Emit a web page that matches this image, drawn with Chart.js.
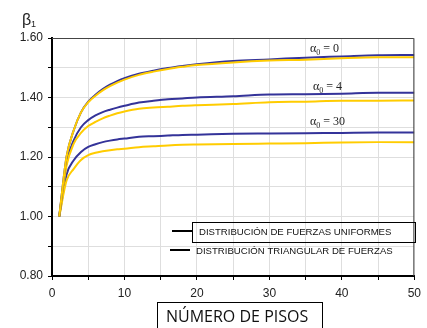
<!DOCTYPE html>
<html>
<head>
<meta charset="utf-8">
<script src="https://cdn.jsdelivr.net/npm/chart.js@4"></script>
<style>
  body { margin: 0; background: #fff; }
  canvas { display: block; }
</style>
</head>
<body>
<canvas id="myChart" width="427" height="328"></canvas>
<script>
// numero de pisos
const pisos = [1, 2, 3, 4, 5, 6, 7, 8, 9, 10, 12, 14, 16, 18, 20, 25, 30, 35, 40, 45, 50];

// beta1 - distribucion uniforme (azul)
const unif0  = [1.00, 1.20, 1.29, 1.35, 1.386, 1.409, 1.428, 1.443, 1.455, 1.465, 1.480, 1.490, 1.499, 1.506, 1.512, 1.523, 1.528, 1.534, 1.538, 1.542, 1.543];
const unif4  = [1.00, 1.18, 1.256, 1.30, 1.324, 1.340, 1.351, 1.359, 1.366, 1.372, 1.383, 1.389, 1.394, 1.397, 1.400, 1.404, 1.410, 1.411, 1.413, 1.416, 1.416];
const unif30 = [1.00, 1.14, 1.189, 1.217, 1.234, 1.243, 1.250, 1.255, 1.259, 1.262, 1.268, 1.270, 1.272, 1.274, 1.275, 1.278, 1.279, 1.280, 1.281, 1.282, 1.282];

// beta1 - distribucion triangular (amarillo)
const tri0  = [1.00, 1.20, 1.29, 1.35, 1.384, 1.406, 1.424, 1.438, 1.450, 1.460, 1.476, 1.487, 1.496, 1.503, 1.509, 1.518, 1.524, 1.527, 1.532, 1.535, 1.535];
const tri4  = [1.00, 1.17, 1.245, 1.281, 1.304, 1.318, 1.330, 1.339, 1.347, 1.353, 1.362, 1.366, 1.369, 1.372, 1.374, 1.378, 1.384, 1.386, 1.389, 1.389, 1.390];
const tri30 = [1.00, 1.12, 1.16, 1.19, 1.206, 1.214, 1.219, 1.223, 1.226, 1.228, 1.233, 1.236, 1.239, 1.241, 1.242, 1.244, 1.245, 1.246, 1.249, 1.250, 1.250];

const alphaLabels = ["0", "4", "30"];
const legendLabels = ["DISTRIBUCIÓN DE FUERZAS UNIFORMES", "DISTRIBUCIÓN TRIANGULAR DE FUERZAS"];
const xTitle = "NÚMERO DE PISOS";

const azul = "#343399";
const amarillo = "#ffcc00";

function serie(vals, color) {
    return {
        data: pisos.map((p, i) => ({ x: p, y: vals[i] })),
        borderColor: color,
        borderWidth: 2,
        pointRadius: 0,
        fill: false,
        cubicInterpolationMode: "monotone"
    };
}

const extras = {
    id: "extras",
    afterDraw(chart) {
        const ctx = chart.ctx;
        const a = chart.chartArea;
        ctx.save();
        // marco superior y derecho
        ctx.strokeStyle = "#444";
        ctx.lineWidth = 1;
        ctx.beginPath();
        ctx.moveTo(a.left, a.top + 0.5);
        ctx.lineTo(a.right - 0.5, a.top + 0.5);
        ctx.lineTo(a.right - 0.5, a.bottom);
        ctx.stroke();

        // beta1
        ctx.fillStyle = "#222";
        ctx.textBaseline = "alphabetic";
        ctx.font = "16px 'Liberation Sans'";
        ctx.fillText("β", 22, 25);
        ctx.font = "9px 'Liberation Sans'";
        ctx.fillText("1", 31, 27);

        // etiquetas alpha0
        const pos = [[310, 52], [313, 90], [310, 125]];
        alphaLabels.forEach((t, i) => {
            let x = pos[i][0], y = pos[i][1];
            ctx.font = "12px 'Liberation Serif'";
            ctx.fillText("α", x, y);
            x += ctx.measureText("α").width;
            ctx.font = "8px 'Liberation Serif'";
            ctx.fillText("0", x, y + 3);
            x += ctx.measureText("0").width;
            ctx.font = "12px 'Liberation Serif'";
            ctx.fillText(" = " + t, x, y);
        });

        // leyenda
        ctx.strokeStyle = "#000";
        ctx.lineWidth = 1;
        ctx.strokeRect(192.5, 222.5, 223, 20);
        ctx.lineWidth = 2;
        ctx.beginPath();
        ctx.moveTo(172, 231); ctx.lineTo(192, 231);
        ctx.moveTo(170, 250); ctx.lineTo(190, 250);
        ctx.stroke();
        ctx.font = "9.6px 'Liberation Sans'";
        ctx.fillStyle = "#111";
        ctx.textBaseline = "middle";
        ctx.fillText(legendLabels[0], 199, 232);
        ctx.fillText(legendLabels[1], 196, 251);

        // titulo eje x
        ctx.lineWidth = 1;
        ctx.strokeRect(157.5, 302.5, 165, 30);
        ctx.font = "16px 'Open Sans'";
        ctx.fillStyle = "#111";
        ctx.fillText(xTitle, 166, 317);
        ctx.restore();
    }
};

const ctx = document.getElementById("myChart").getContext("2d");
const myChart = new Chart(ctx, {
    type: "line",
    data: {
        datasets: [
            serie(tri0, amarillo), serie(unif0, azul),
            serie(tri4, amarillo), serie(unif4, azul),
            serie(tri30, amarillo), serie(unif30, azul)
        ]
    },
    options: {
        responsive: false,
        animation: false,
        layout: { padding: { top: 38, right: 9, left: 0, bottom: 0 } },
        plugins: { legend: { display: false }, tooltip: { enabled: false } },
        scales: {
            x: {
                type: "linear",
                min: 0, max: 50,
                afterFit(s) { s.height = 52; },
                grid: { color: "#dedede", tickColor: "#000", tickLength: 4, drawOnChartArea: true },
                border: { color: "#000", width: 2 },
                ticks: {
                    stepSize: 5,
                    maxRotation: 0,
                    padding: 6,
                    color: "#222",
                    font: { family: "'Liberation Sans'", size: 12 },
                    callback: v => (v % 10 === 0 ? v : "")
                }
            },
            y: {
                min: 0.8, max: 1.6,
                afterFit(s) { s.width = 52; },
                grid: { color: "#dedede", tickColor: "#000", tickLength: 4 },
                border: { color: "#000", width: 2 },
                ticks: {
                    stepSize: 0.1,
                    padding: 5,
                    color: "#222",
                    font: { family: "'Liberation Sans'", size: 12 },
                    callback: v => (Math.round(v * 10) % 2 === 0 ? v.toFixed(2) : "")
                }
            }
        }
    },
    plugins: [extras]
});
</script>
</body>
</html>
